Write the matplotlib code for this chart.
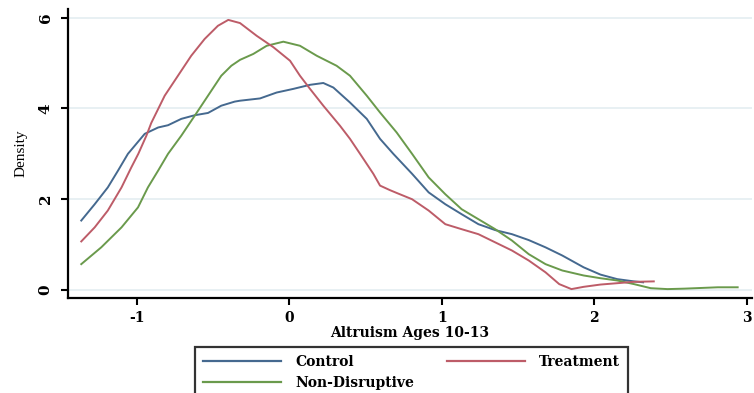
import matplotlib
matplotlib.use("Agg")
import matplotlib.pyplot as plt

# Kernel density estimates of altruism scores (ages 10-13) by group
control_x = [-1.364, -1.276, -1.19, -1.123, -1.058, -0.948, -0.86, -0.795, -0.708,
             -0.62, -0.533, -0.446, -0.358, -0.323, -0.192, -0.083, 0.026, 0.136,
             0.223, 0.289, 0.398, 0.508, 0.595, 0.682, 0.805, 0.914, 1.023, 1.13,
             1.24, 1.35, 1.46, 1.57, 1.68, 1.79, 1.93, 2.04, 2.15, 2.26, 2.32]
control_y = [1.53, 1.89, 2.26, 2.63, 3.0, 3.44, 3.58, 3.63, 3.77,
             3.85, 3.90, 4.06, 4.15, 4.17, 4.22, 4.35, 4.43, 4.52,
             4.56, 4.46, 4.13, 3.77, 3.33, 3.0, 2.56, 2.15, 1.89, 1.67,
             1.45, 1.32, 1.23, 1.10, 0.94, 0.76, 0.50, 0.34, 0.24, 0.19, 0.17]

treatment_x = [-1.364, -1.276, -1.19, -1.10, -1.036, -0.99, -0.937, -0.905, -0.817,
               -0.73, -0.643, -0.555, -0.468, -0.40, -0.323, -0.214, -0.105, 0.005,
               0.07, 0.136, 0.223, 0.332, 0.398, 0.464, 0.551, 0.595, 0.66, 0.71,
               0.805, 0.914, 1.023, 1.13, 1.24, 1.35, 1.46, 1.57, 1.68, 1.77,
               1.85, 1.93, 2.04, 2.15, 2.26, 2.39]
treatment_y = [1.07, 1.38, 1.75, 2.26, 2.70, 3.0, 3.40, 3.68, 4.28,
               4.72, 5.16, 5.53, 5.82, 5.95, 5.88, 5.60, 5.35, 5.05,
               4.72, 4.43, 4.06, 3.62, 3.33, 3.0, 2.56, 2.30, 2.20, 2.13,
               2.0, 1.75, 1.45, 1.34, 1.23, 1.05, 0.87, 0.65, 0.39, 0.13,
               0.02, 0.07, 0.12, 0.15, 0.18, 0.19]

nondisruptive_x = [-1.364, -1.233, -1.10, -0.992, -0.927, -0.86, -0.795, -0.708, -0.62,
                   -0.533, -0.446, -0.38, -0.323, -0.236, -0.148, -0.039, 0.07, 0.18,
                   0.31, 0.398, 0.508, 0.595, 0.704, 0.805, 0.914, 1.023, 1.13, 1.24,
                   1.35, 1.46, 1.57, 1.68, 1.79, 1.93, 2.04, 2.15, 2.26, 2.37, 2.48,
                   2.59, 2.70, 2.81, 2.94]
nondisruptive_y = [0.57, 0.94, 1.38, 1.82, 2.26, 2.63, 3.0, 3.40, 3.84,
                   4.28, 4.72, 4.94, 5.07, 5.20, 5.38, 5.47, 5.38, 5.16,
                   4.94, 4.72, 4.28, 3.91, 3.47, 3.0, 2.48, 2.11, 1.78, 1.56,
                   1.34, 1.09, 0.79, 0.57, 0.43, 0.32, 0.26, 0.21, 0.13, 0.04, 0.02,
                   0.03, 0.045, 0.06, 0.06]

x_ticks = [-1, 0, 1, 2, 3]
y_ticks = [0, 2, 4, 6]

blue = "#45698f"
red = "#bd5c68"
green = "#6a9a4c"

serif = ["DejaVu Serif"]

fig = plt.figure(figsize=(7.54, 3.93), dpi=100)
ax = fig.add_axes([68 / 754, 1 - 298 / 393, (752 - 68) / 754, (298 - 9) / 393])

for t in y_ticks:
    ax.axhline(t, color="#e8f0f3", lw=1.4, zorder=0)

ax.plot(control_x, control_y, color=blue, lw=1.4, label="Control")
ax.plot(nondisruptive_x, nondisruptive_y, color=green, lw=1.4, label="Non-Disruptive")
ax.plot(treatment_x, treatment_y, color=red, lw=1.4, label="Treatment")

ax.set_xlim(-1.451, 3.034)
ax.set_ylim(-0.176, 6.19)
ax.set_xticks(x_ticks)
ax.set_yticks(y_ticks)
ax.set_xticklabels([str(v) for v in x_ticks], fontfamily=serif, fontweight="bold", fontsize=10)
ax.set_yticklabels([str(v) for v in y_ticks], fontfamily=serif, fontweight="bold",
                   fontsize=11, rotation=90, va="center")

for side in ("top", "right"):
    ax.spines[side].set_visible(False)
for side in ("left", "bottom"):
    ax.spines[side].set_linewidth(1.6)
ax.tick_params(axis="both", width=1.5, length=5, color="black")
ax.tick_params(axis="x", pad=4)
ax.tick_params(axis="y", pad=6)

ax.set_xlabel("Altruism Ages 10-13", fontfamily=serif, fontweight="bold", fontsize=10, labelpad=1)
ax.set_ylabel("Density", fontfamily=["Liberation Serif"], fontsize=11, labelpad=8)

leg = ax.legend(loc="upper left", bbox_to_anchor=(195 / 754, 1 - 347 / 393),
                bbox_transform=fig.transFigure, ncol=2, frameon=True, fancybox=False,
                prop={"family": serif, "weight": "bold", "size": 10},
                handlelength=5.6, handletextpad=1.0, columnspacing=2.4,
                labelspacing=0.45, borderpad=0.6, borderaxespad=0)
leg.get_frame().set_edgecolor("black")
leg.get_frame().set_linewidth(1.6)
for h in leg.get_lines():
    h.set_linewidth(1.6)

fig.savefig("out.png", dpi=100)
